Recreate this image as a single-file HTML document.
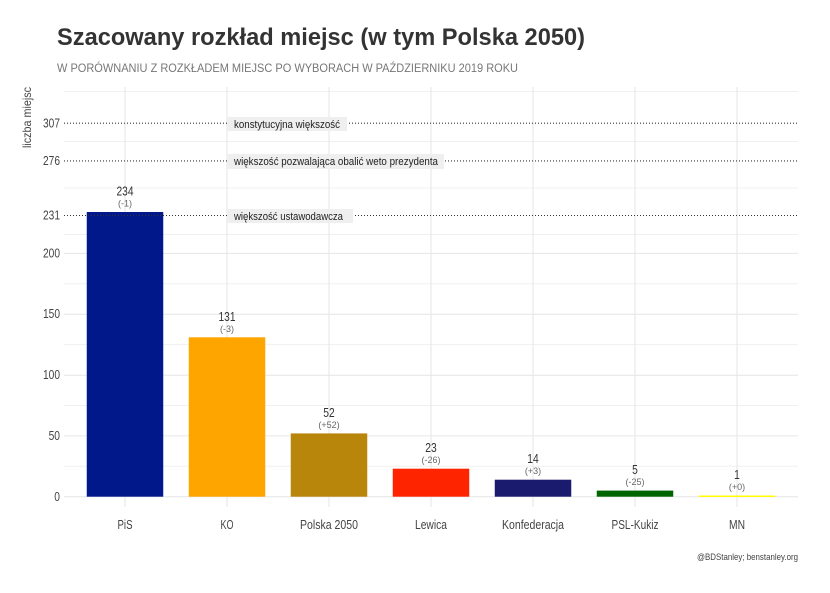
<!DOCTYPE html>
<html><head><meta charset="utf-8"><style>
html,body{margin:0;padding:0;background:#fff;}
svg{display:block;}
text{font-family:"Liberation Sans",sans-serif;}
</style></head><body>
<svg width="830" height="593" viewBox="0 0 830 593" xmlns="http://www.w3.org/2000/svg">
<rect width="830" height="593" fill="#fff"/>
<!-- title -->
<text x="57" y="45" font-size="24" font-weight="bold" fill="#333" textLength="528" lengthAdjust="spacingAndGlyphs">Szacowany rozkład miejsc (w tym Polska 2050)</text>
<text x="57" y="72" font-size="11.5" fill="#777" textLength="461" lengthAdjust="spacingAndGlyphs">W PORÓWNANIU Z ROZKŁADEM MIEJSC PO WYBORACH W PAŹDZIERNIKU 2019 ROKU</text>
<!-- minor gridlines -->
<g stroke="#f0f0f0" stroke-width="1">
<line x1="64" x2="798" y1="91.5" y2="91.5"/>
<line x1="64" x2="798" y1="141.5" y2="141.5"/>
<line x1="64" x2="798" y1="188" y2="188"/>
<line x1="64" x2="798" y1="234.5" y2="234.5"/>
<line x1="64" x2="798" y1="283.8" y2="283.8"/>
<line x1="64" x2="798" y1="344.6" y2="344.6"/>
<line x1="64" x2="798" y1="405.5" y2="405.5"/>
<line x1="64" x2="798" y1="466.3" y2="466.3"/>
</g>
<!-- major gridlines -->
<g stroke="#e6e6e6" stroke-width="1">
<line x1="64" x2="798" y1="496.7" y2="496.7"/>
<line x1="64" x2="798" y1="435.9" y2="435.9"/>
<line x1="64" x2="798" y1="375.2" y2="375.2"/>
<line x1="64" x2="798" y1="314.2" y2="314.2"/>
<line x1="64" x2="798" y1="253.4" y2="253.4"/>
<line x1="125" x2="125" y1="87" y2="507"/>
<line x1="227" x2="227" y1="87" y2="507"/>
<line x1="329" x2="329" y1="87" y2="507"/>
<line x1="431" x2="431" y1="87" y2="507"/>
<line x1="533" x2="533" y1="87" y2="507"/>
<line x1="635" x2="635" y1="87" y2="507"/>
<line x1="737" x2="737" y1="87" y2="507"/>
</g>
<!-- bars -->
<rect x="86.75" y="212" width="76.5" height="284.7" fill="#00188a"/>
<rect x="188.75" y="337.3" width="76.5" height="159.4" fill="#ffa500"/>
<rect x="290.75" y="433.4" width="76.5" height="63.3" fill="#b8860b"/>
<rect x="392.75" y="468.7" width="76.5" height="28" fill="#ff2400"/>
<rect x="494.75" y="479.7" width="76.5" height="17" fill="#1a1a6e"/>
<rect x="596.75" y="490.6" width="76.5" height="6.1" fill="#006400"/>
<rect x="698.75" y="495.5" width="76.5" height="1.5" fill="#ffff00"/>
<!-- dotted lines -->
<g stroke="#333" stroke-width="1.1" stroke-dasharray="1 2">
<line x1="64" x2="798" y1="123.2" y2="123.2"/>
<line x1="64" x2="798" y1="160.9" y2="160.9"/>
<line x1="64" x2="798" y1="215.5" y2="215.5"/>
</g>
<!-- annotation labels -->
<rect x="227" y="117" width="120" height="14" fill="#efefef"/>
<rect x="227" y="154" width="217" height="15" fill="#efefef"/>
<rect x="227" y="209" width="126" height="14" fill="#efefef"/>
<g font-size="11" fill="#222">
<text x="234" y="128" textLength="106" lengthAdjust="spacingAndGlyphs">konstytucyjna większość</text>
<text x="234" y="165" textLength="204" lengthAdjust="spacingAndGlyphs">większość pozwalająca obalić weto prezydenta</text>
<text x="234" y="220" textLength="109" lengthAdjust="spacingAndGlyphs">większość ustawodawcza</text>
</g>
<!-- y axis labels -->
<g font-size="12.5" fill="#444" text-anchor="end">
<text x="60" y="501" textLength="5.7" lengthAdjust="spacingAndGlyphs">0</text>
<text x="60" y="440" textLength="11.4" lengthAdjust="spacingAndGlyphs">50</text>
<text x="60" y="379" textLength="17" lengthAdjust="spacingAndGlyphs">100</text>
<text x="60" y="318" textLength="17" lengthAdjust="spacingAndGlyphs">150</text>
<text x="60" y="257.5" textLength="17" lengthAdjust="spacingAndGlyphs">200</text>
<text x="60" y="219.5" textLength="17" lengthAdjust="spacingAndGlyphs">231</text>
<text x="60" y="165" textLength="17" lengthAdjust="spacingAndGlyphs">276</text>
<text x="60" y="127.5" textLength="17" lengthAdjust="spacingAndGlyphs">307</text>
</g>
<text transform="translate(31,87) rotate(-90)" text-anchor="end" font-size="12" fill="#444" textLength="61" lengthAdjust="spacingAndGlyphs">liczba miejsc</text>
<!-- x axis labels -->
<g font-size="12.5" fill="#444" text-anchor="middle">
<text x="125" y="529" textLength="15" lengthAdjust="spacingAndGlyphs">PiS</text>
<text x="227" y="529" textLength="13" lengthAdjust="spacingAndGlyphs">KO</text>
<text x="329" y="529" textLength="58" lengthAdjust="spacingAndGlyphs">Polska 2050</text>
<text x="431" y="529" textLength="32" lengthAdjust="spacingAndGlyphs">Lewica</text>
<text x="533" y="529" textLength="62" lengthAdjust="spacingAndGlyphs">Konfederacja</text>
<text x="635" y="529" textLength="47" lengthAdjust="spacingAndGlyphs">PSL-Kukiz</text>
<text x="737" y="529" textLength="16" lengthAdjust="spacingAndGlyphs">MN</text>
</g>
<!-- value labels -->
<g font-size="12.5" fill="#333" text-anchor="middle">
<text x="125" y="195.5" textLength="17" lengthAdjust="spacingAndGlyphs">234</text>
<text x="227" y="320.8" textLength="17" lengthAdjust="spacingAndGlyphs">131</text>
<text x="329" y="416.9" textLength="11.4" lengthAdjust="spacingAndGlyphs">52</text>
<text x="431" y="452.2" textLength="11.4" lengthAdjust="spacingAndGlyphs">23</text>
<text x="533" y="463.2" textLength="11.4" lengthAdjust="spacingAndGlyphs">14</text>
<text x="635" y="474.1" textLength="5.7" lengthAdjust="spacingAndGlyphs">5</text>
<text x="737" y="479" textLength="5.7" lengthAdjust="spacingAndGlyphs">1</text>
</g>
<g font-size="9" fill="#666" text-anchor="middle">
<text x="125" y="206.5">(-1)</text>
<text x="227" y="331.8">(-3)</text>
<text x="329" y="427.9">(+52)</text>
<text x="431" y="463.2">(-26)</text>
<text x="533" y="474.2">(+3)</text>
<text x="635" y="485.1">(-25)</text>
<text x="737" y="490">(+0)</text>
</g>
<!-- caption -->
<text x="798" y="560" font-size="9.5" fill="#444" text-anchor="end" textLength="101" lengthAdjust="spacingAndGlyphs">@BDStanley; benstanley.org</text>
</svg>
</body></html>
